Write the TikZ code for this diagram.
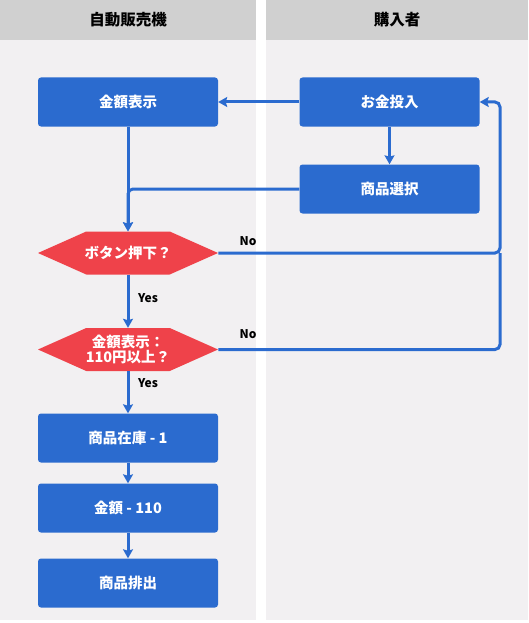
\documentclass[tikz,border=0pt]{standalone}
\usepackage{fontspec}
\setmainfont{Noto Sans CJK JP}
\usetikzlibrary{shapes.symbols,arrows.meta}
\definecolor{flowblue}{HTML}{2B6BCF}
\definecolor{flowred}{HTML}{EF424A}
\definecolor{lanehead}{HTML}{D0D0D0}
\definecolor{lanebody}{HTML}{F2F0F2}
\tikzset{
  procbox/.style={fill=flowblue, rounded corners=3pt, minimum width=180pt, minimum height=49pt,
    text=white, font=\fontsize{14.5}{15}\selectfont\bfseries, align=center},
  decision/.style={signal, signal to=west and east, signal pointer angle=48, fill=flowred,
    minimum width=180pt, minimum height=43pt, inner xsep=-10pt, inner ysep=0pt,
    text=white, font=\fontsize{14.5}{15}\selectfont\bfseries, align=center},
  flow/.style={draw=flowblue, line width=3pt, rounded corners=5pt,
    -{Stealth[length=9pt,width=10pt,inset=1.5pt]}},
  lbl/.style={font=\fontsize{12}{14}\selectfont\bfseries},
  headtext/.style={font=\fontsize{15.5}{17}\selectfont\bfseries}
}
\begin{document}
\begin{tikzpicture}[x=1pt,y=-1pt]
        \useasboundingbox[fill=white] (0,0) rectangle (529,623);

        % Draw the lanes
        \fill[lanehead] (0,0) rectangle (256,40);
        \fill[lanebody] (0,40) rectangle (256,620);
        \fill[lanehead] (266,0) rectangle (528,40);
        \fill[lanebody] (266,40) rectangle (528,620);
        \node[headtext] (machine) at (128,20) {自動販売機};
        \node[headtext] (buyer) at (397,20) {購入者};

        % Draw the steps
        \node[procbox] (disp) at (128,102) {金額表示};
        \node[procbox] (money) at (389.5,102) {お金投入};
        \node[procbox] (select) at (389.5,189) {商品選択};
        \node[decision] (button) at (128,253) {ボタン押下？};
        \node[decision] (enough) at (128,349.5) {金額表示：\\110円以上？};
        \node[procbox] (stock) at (128,438) {商品在庫 - 1};
        \node[procbox] (pay) at (128,508) {金額 - 110};
        \node[procbox] (out) at (128,583) {商品排出};
        \coordinate (loop) at (500,102);

        % Draw the connectors
        \draw[flow] (money.west) -- (disp.east);
        \draw[flow] (money.south) -- (select.north);
        \draw[flow] (disp.south) -- (button.north);
        \draw[flow] (select.west) -| (button.north);
        \draw[flow] (button.east) -| (loop) -- (money.east);
        \draw[flow,-] (enough.east) -| (button.east -| loop);
        \draw[flow] (button.south) -- (enough.north);
        \draw[flow] (enough.south) -- (stock.north);
        \draw[flow] (stock.south) -- (pay.north);
        \draw[flow] (pay.south) -- (out.north);

        % Draw the labels
        \node[lbl] (no1) at (248,241) {No};
        \node[lbl] (no2) at (248,334) {No};
        \node[lbl] (yes1) at (148,298) {Yes};
        \node[lbl] (yes2) at (148,383) {Yes};
\end{tikzpicture}
\end{document}
